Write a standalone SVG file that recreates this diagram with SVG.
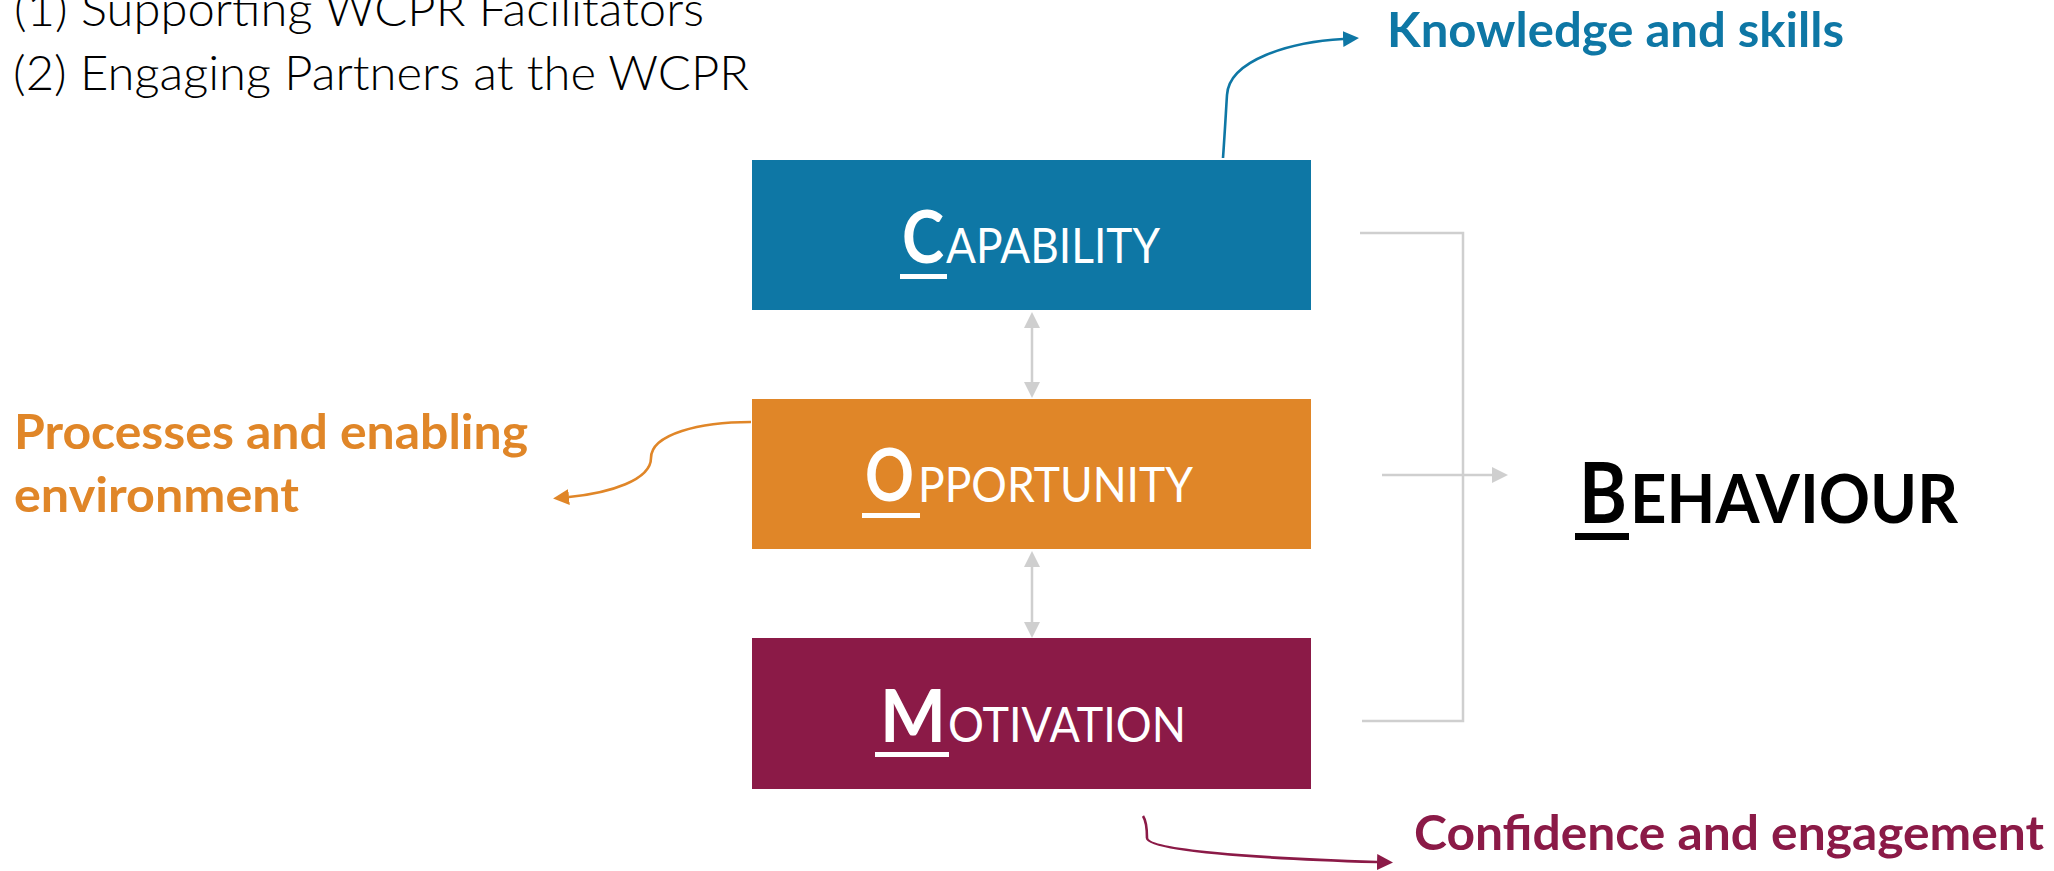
<svg xmlns="http://www.w3.org/2000/svg" width="2054" height="871" viewBox="0 0 2054 871">
  <style>
    .head { font-family: Lato, "Open Sans", "Liberation Sans", sans-serif; font-weight: 300; font-size: 47px; fill: #000; }
    .note { font-family: Lato, "Open Sans", "Liberation Sans", sans-serif; font-weight: 700; font-size: 47px; }
    .big { font-family: Lato, "Open Sans", "Liberation Sans", sans-serif; font-weight: 700; font-size: 72px; fill: #fff; }
    .small { font-family: Lato, "Open Sans", "Liberation Sans", sans-serif; font-weight: 400; font-size: 49px; fill: #fff; }
    .ul { fill: #fff; }
    .grey { stroke: #cfcfcf; stroke-width: 2.5; fill: none; }
    .curve { stroke-width: 2.6; fill: none; }
  </style>
  <defs>
    <marker id="ah-grey" viewBox="0 0 16 16" refX="0" refY="8" markerWidth="16" markerHeight="16" markerUnits="userSpaceOnUse" orient="auto-start-reverse">
      <path d="M0,0 L16,8 L0,16 z" fill="#cfcfcf"/>
    </marker>
    <marker id="ah-blue" viewBox="0 0 16 16" refX="0" refY="8" markerWidth="16" markerHeight="16" markerUnits="userSpaceOnUse" orient="auto">
      <path d="M0,0 L16,8 L0,16 z" fill="#0e77a5"/>
    </marker>
    <marker id="ah-orange" viewBox="0 0 16 16" refX="0" refY="8" markerWidth="16" markerHeight="16" markerUnits="userSpaceOnUse" orient="auto">
      <path d="M0,0 L16,8 L0,16 z" fill="#e08628"/>
    </marker>
    <marker id="ah-purple" viewBox="0 0 16 16" refX="0" refY="8" markerWidth="16" markerHeight="16" markerUnits="userSpaceOnUse" orient="auto">
      <path d="M0,0 L16,8 L0,16 z" fill="#8b1a47"/>
    </marker>
  </defs>

  <rect width="2054" height="871" fill="#fff"/>

  <!-- heading lines -->
  <g id="heading">
    <text class="head" x="14" y="26" textLength="690" lengthAdjust="spacingAndGlyphs">(1) Supporting WCPR Facilitators</text>
    <text class="head" x="13" y="90" textLength="736" lengthAdjust="spacingAndGlyphs">(2) Engaging Partners at the WCPR</text>
  </g>

  <!-- connectors -->
  <g id="connectors">
    <line class="grey" x1="1032" y1="328" x2="1032" y2="382" marker-start="url(#ah-grey)" marker-end="url(#ah-grey)"/>
    <line class="grey" x1="1032" y1="567" x2="1032" y2="622" marker-start="url(#ah-grey)" marker-end="url(#ah-grey)"/>
    <path class="grey" d="M1360,233 H1463 V721 H1362" stroke-width="2"/>
    <line class="grey" x1="1382" y1="475" x2="1492" y2="475" marker-end="url(#ah-grey)"/>
    <path class="curve" stroke="#0e77a5" d="M1223,158 C1225,130 1226,110 1227,95 C1229,60 1290,42 1343,39" marker-end="url(#ah-blue)"/>
    <path class="curve" stroke="#e08628" d="M751,422 C700,422 651,434 651,458 C651,480 610,493 569,497" marker-end="url(#ah-orange)"/>
    <path class="curve" stroke="#8b1a47" d="M1143,816 C1147,822 1147,832 1147,838 C1148,850 1250,858 1377,862" marker-end="url(#ah-purple)"/>
  </g>

  <!-- capability -->
  <g id="capability">
    <rect x="752" y="160" width="559" height="150" fill="#0e77a5"/>
    <text class="big" x="902" y="263" textLength="42" lengthAdjust="spacingAndGlyphs">C</text>
    <text class="small" x="946" y="263" textLength="214" lengthAdjust="spacingAndGlyphs">APABILITY</text>
    <rect class="ul" x="900" y="274" width="47" height="5"/>
  </g>

  <!-- opportunity -->
  <g id="opportunity">
    <rect x="752" y="399" width="559" height="150" fill="#e08628"/>
    <text class="big" x="865" y="501" textLength="49" lengthAdjust="spacingAndGlyphs">O</text>
    <text class="small" x="918" y="502" textLength="275" lengthAdjust="spacingAndGlyphs">PPORTUNITY</text>
    <rect class="ul" x="862" y="513" width="58" height="5"/>
  </g>

  <!-- motivation -->
  <g id="motivation">
    <rect x="752" y="638" width="559" height="151" fill="#8b1a47"/>
    <text class="big" x="880" y="742" textLength="66" lengthAdjust="spacingAndGlyphs">M</text>
    <text class="small" x="948" y="742" textLength="238" lengthAdjust="spacingAndGlyphs">OTIVATION</text>
    <rect class="ul" x="875" y="752" width="74" height="5"/>
  </g>

  <!-- behaviour -->
  <g id="behaviour">
    <text x="1579" y="523" font-family="Lato, 'Open Sans', 'Liberation Sans', sans-serif" font-weight="700" font-size="85" fill="#000" textLength="48" lengthAdjust="spacingAndGlyphs">B</text>
    <text x="1630" y="523" font-family="Lato, 'Open Sans', 'Liberation Sans', sans-serif" font-weight="700" font-size="67" fill="#000" textLength="328" lengthAdjust="spacingAndGlyphs">EHAVIOUR</text>
    <rect x="1575" y="533" width="54" height="7" fill="#000"/>
  </g>

  <!-- annotation labels -->
  <g id="knowledge">
    <text class="note" x="1387" y="47" fill="#0e77a5" textLength="457" lengthAdjust="spacingAndGlyphs">Knowledge and skills</text>
  </g>
  <g id="processes">
    <text class="note" x="14" y="449" fill="#e08628" textLength="514" lengthAdjust="spacingAndGlyphs">Processes and enabling</text>
    <text class="note" x="14" y="512" fill="#e08628" textLength="285" lengthAdjust="spacingAndGlyphs">environment</text>
  </g>
  <g id="confidence">
    <text class="note" x="1414" y="850" fill="#8b1a47" textLength="630" lengthAdjust="spacingAndGlyphs">Confidence and engagement</text>
  </g>
</svg>
